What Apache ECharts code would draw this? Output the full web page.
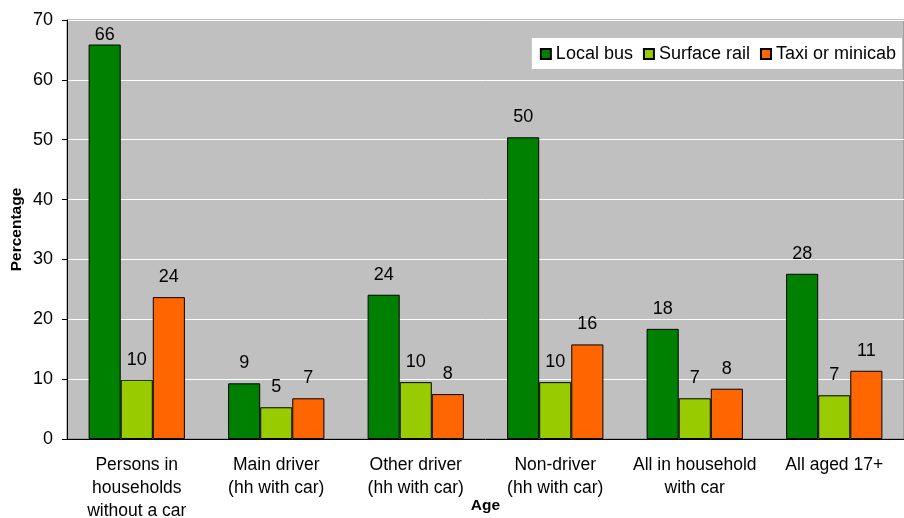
<!DOCTYPE html>
<html><head><meta charset="utf-8">
<script src="https://cdn.jsdelivr.net/npm/echarts@6/dist/echarts.min.js"></script>
<style>html,body{margin:0;padding:0;background:#fff}#c{width:904px;height:518px}</style>
</head><body><div id="c"></div>
<script>
var categories = ['Persons in\nhouseholds\nwithout a car', 'Main driver\n(hh with car)', 'Other driver\n(hh with car)', 'Non-driver\n(hh with car)', 'All in household\nwith car', 'All aged 17+'];
var localBus = [65.9, 9.3, 24.1, 50.4, 18.4, 27.6];
var surfaceRail = [9.9, 5.3, 9.5, 9.5, 6.8, 7.3];
var taxi = [23.7, 6.8, 7.5, 15.8, 8.4, 11.4];
var yTicks = [0, 10, 20, 30, 40, 50, 60, 70];

var F = 'Liberation Sans, Arial, sans-serif';
function mkSeries(name, data, color) {
  return {
    name: name, type: 'bar', data: data.map(function (v) {
      var d = { value: v };
      if (v > 60) d.label = { distance: 1 };
      return d;
    }),
    barGap: '0%', barCategoryGap: '31%',
    itemStyle: { color: color, borderColor: '#000', borderWidth: 1 },
    label: { show: true, position: 'top', distance: 11, color: '#000', fontFamily: F, fontSize: 18,
      formatter: function (p) { return Math.round(p.value); } }
  };
}
var chart = echarts.init(document.getElementById('c'), null, { renderer: 'canvas' });
chart.setOption({
  animation: false,
  textStyle: { fontFamily: F },
  grid: { left: 67, right: 0, top: 20, bottom: 79, outerBoundsMode: 'none', containLabel: false,
    show: true, backgroundColor: '#c0c0c0', borderColor: '#808080', borderWidth: 1 },
  legend: {
    right: 2, top: 38, itemWidth: 10, itemHeight: 10, itemGap: 10,
    backgroundColor: '#fff', padding: [7, 6, 6, 8],
    textStyle: { fontFamily: F, fontSize: 18, color: '#000' },
    icon: 'rect',
    data: ['Local bus', 'Surface rail', 'Taxi or minicab']
  },
  xAxis: {
    type: 'category', data: categories,
    name: 'Age', nameLocation: 'middle', nameGap: 59, nameMoveOverlap: false,
    nameTextStyle: { fontFamily: F, fontSize: 15.5, fontWeight: 'bold', color: '#000' },
    axisLine: { lineStyle: { color: '#000', width: 1 } },
    axisTick: { show: false },
    axisLabel: { color: '#000', fontFamily: F, fontSize: 17.5, lineHeight: 23, margin: 15, interval: 0 }
  },
  yAxis: {
    type: 'value', min: yTicks[0], max: yTicks[yTicks.length - 1], interval: 10,
    name: 'Percentage', nameLocation: 'middle', nameGap: 42, nameRotate: 90, nameMoveOverlap: false,
    nameTextStyle: { fontFamily: F, fontSize: 15.5, fontWeight: 'bold', color: '#000' },
    axisLine: { show: true, lineStyle: { color: '#000', width: 1 } },
    axisTick: { show: true, length: 5, lineStyle: { color: '#000' } },
    axisLabel: { color: '#000', fontFamily: F, fontSize: 18, margin: 14 },
    splitLine: { show: true, lineStyle: { color: '#fff', width: 1 } }
  },
  series: [
    mkSeries('Local bus', localBus, '#008000'),
    mkSeries('Surface rail', surfaceRail, '#99cc00'),
    mkSeries('Taxi or minicab', taxi, '#ff6600')
  ]
});
</script></body></html>
